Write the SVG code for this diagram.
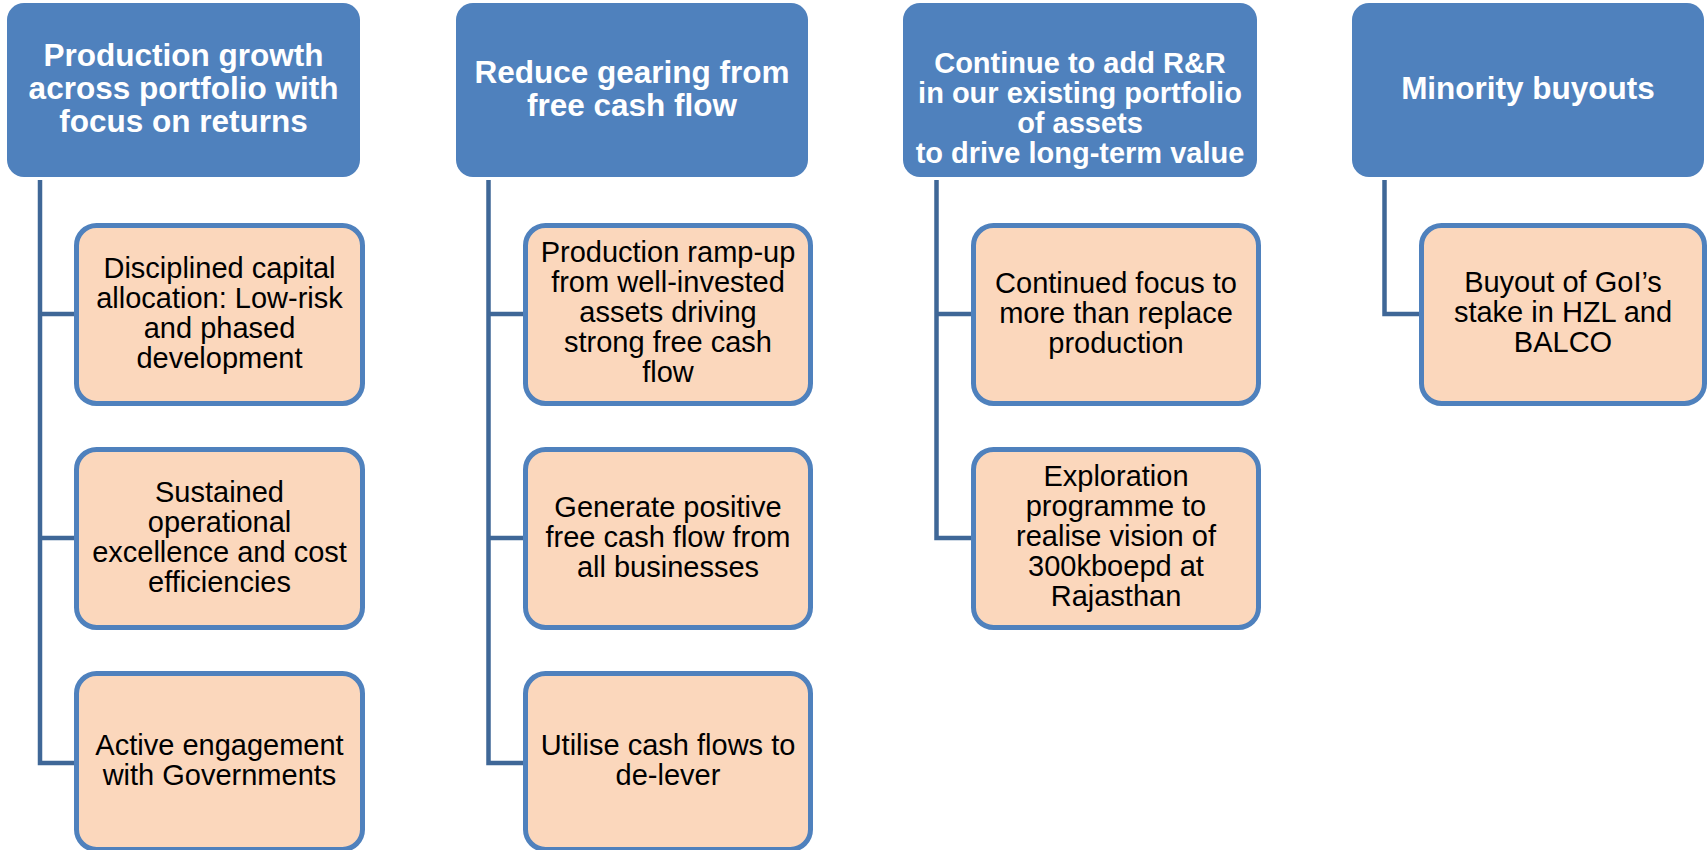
<svg xmlns="http://www.w3.org/2000/svg" width="1707" height="850" viewBox="0 0 1707 850">
  <style>
    .hdr { fill: #4F81BD; }
    .hdr-t { font-family: "Liberation Sans", Arial, sans-serif; font-weight: bold; font-size: 31.5px; fill: #FFFFFF; text-anchor: middle; }
    .hdr-s { font-size: 29px; }
    .box { fill: #FBD7BC; stroke: #4F81BD; stroke-width: 5; }
    .box-t { font-family: "Liberation Sans", Arial, sans-serif; font-size: 29px; fill: #000000; text-anchor: middle; }
    .conn { fill: none; stroke: #3F6797; stroke-width: 4.5; stroke-linejoin: miter; stroke-linecap: butt; }
  </style>

  <!-- connectors from each header down to its child boxes -->
  <g id="connectors">
    <path class="conn" d="M40,180 V763 H77 M40,314 H77 M40,538 H77"/>
    <path class="conn" d="M488.5,180 V763 H526 M488.5,314 H526 M488.5,538 H526"/>
    <path class="conn" d="M936.5,180 V538 H974 M936.5,314 H974"/>
    <path class="conn" d="M1384.5,180 V314 H1422"/>
  </g>

  <!-- column 1 -->
  <g id="h1">
    <rect class="hdr" x="7" y="3" width="353" height="174" rx="17"/>
    <text class="hdr-t" x="183.5" y="66">Production growth</text>
    <text class="hdr-t" x="183.5" y="99">across portfolio with</text>
    <text class="hdr-t" x="183.5" y="132">focus on returns</text>
  </g>
  <g id="c1a">
    <rect class="box" x="76.5" y="225.5" width="286" height="178" rx="20"/>
    <text class="box-t" x="219.5" y="278">Disciplined capital</text>
    <text class="box-t" x="219.5" y="308">allocation: Low-risk</text>
    <text class="box-t" x="219.5" y="338">and phased</text>
    <text class="box-t" x="219.5" y="368">development</text>
  </g>
  <g id="c1b">
    <rect class="box" x="76.5" y="449.5" width="286" height="178" rx="20"/>
    <text class="box-t" x="219.5" y="502">Sustained</text>
    <text class="box-t" x="219.5" y="532">operational</text>
    <text class="box-t" x="219.5" y="562">excellence and cost</text>
    <text class="box-t" x="219.5" y="592">efficiencies</text>
  </g>
  <g id="c1c">
    <rect class="box" x="76.5" y="673.5" width="286" height="176" rx="20"/>
    <text class="box-t" x="219.5" y="755">Active engagement</text>
    <text class="box-t" x="219.5" y="785">with Governments</text>
  </g>

  <!-- column 2 -->
  <g id="h2">
    <rect class="hdr" x="456" y="3" width="352" height="174" rx="17"/>
    <text class="hdr-t" x="632" y="83">Reduce gearing from</text>
    <text class="hdr-t" x="632" y="116">free cash flow</text>
  </g>
  <g id="c2a">
    <rect class="box" x="525.5" y="225.5" width="285" height="178" rx="20"/>
    <text class="box-t" x="668" y="262">Production ramp-up</text>
    <text class="box-t" x="668" y="292">from well-invested</text>
    <text class="box-t" x="668" y="322">assets driving</text>
    <text class="box-t" x="668" y="352">strong free cash</text>
    <text class="box-t" x="668" y="382">flow</text>
  </g>
  <g id="c2b">
    <rect class="box" x="525.5" y="449.5" width="285" height="178" rx="20"/>
    <text class="box-t" x="668" y="517">Generate positive</text>
    <text class="box-t" x="668" y="547">free cash flow from</text>
    <text class="box-t" x="668" y="577">all businesses</text>
  </g>
  <g id="c2c">
    <rect class="box" x="525.5" y="673.5" width="285" height="176" rx="20"/>
    <text class="box-t" x="668" y="755">Utilise cash flows to</text>
    <text class="box-t" x="668" y="785">de-lever</text>
  </g>

  <!-- column 3 -->
  <g id="h3">
    <rect class="hdr" x="903" y="3" width="354" height="174" rx="17"/>
    <text class="hdr-t hdr-s" x="1080" y="73">Continue to add R&amp;R</text>
    <text class="hdr-t hdr-s" x="1080" y="103">in our existing portfolio</text>
    <text class="hdr-t hdr-s" x="1080" y="133">of assets</text>
    <text class="hdr-t hdr-s" x="1080" y="163">to drive long-term value</text>
  </g>
  <g id="c3a">
    <rect class="box" x="973.5" y="225.5" width="285" height="178" rx="20"/>
    <text class="box-t" x="1116" y="293">Continued focus to</text>
    <text class="box-t" x="1116" y="323">more than replace</text>
    <text class="box-t" x="1116" y="353">production</text>
  </g>
  <g id="c3b">
    <rect class="box" x="973.5" y="449.5" width="285" height="178" rx="20"/>
    <text class="box-t" x="1116" y="486">Exploration</text>
    <text class="box-t" x="1116" y="516">programme to</text>
    <text class="box-t" x="1116" y="546">realise vision of</text>
    <text class="box-t" x="1116" y="576">300kboepd at</text>
    <text class="box-t" x="1116" y="606">Rajasthan</text>
  </g>

  <!-- column 4 -->
  <g id="h4">
    <rect class="hdr" x="1352" y="3" width="352" height="174" rx="17"/>
    <text class="hdr-t" x="1528" y="99">Minority buyouts</text>
  </g>
  <g id="c4a">
    <rect class="box" x="1421.5" y="225.5" width="283" height="178" rx="20"/>
    <text class="box-t" x="1563" y="292">Buyout of GoI’s</text>
    <text class="box-t" x="1563" y="322">stake in HZL and</text>
    <text class="box-t" x="1563" y="352">BALCO</text>
  </g>
</svg>
